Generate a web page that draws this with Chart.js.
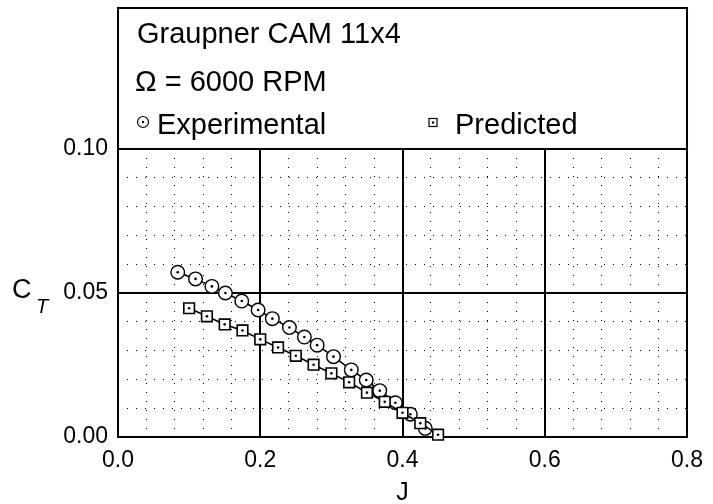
<!DOCTYPE html>
<html>
<head>
<meta charset="utf-8">
<script src="https://cdn.jsdelivr.net/npm/chart.js@4"></script>
<style>
  body { margin: 0; background: #fff; }
</style>
</head>
<body>
<canvas id="myChart" width="713" height="504"></canvas>
<script>
// experimental (circles)
const jExp = [0.084, 0.109, 0.132, 0.151, 0.174, 0.197, 0.217, 0.241, 0.262, 0.280, 0.303, 0.328, 0.349, 0.368, 0.390, 0.411, 0.432];
const ctExp = [0.0572, 0.0549, 0.0523, 0.0500, 0.0472, 0.0441, 0.0411, 0.0380, 0.0347, 0.0319, 0.0279, 0.0233, 0.0198, 0.0161, 0.0119, 0.0079, 0.0030];
// predicted (squares)
const jPred = [0.100, 0.125, 0.150, 0.175, 0.200, 0.225, 0.250, 0.275, 0.300, 0.325, 0.350, 0.375, 0.400, 0.425, 0.450];
const ctPred = [0.0447, 0.0419, 0.0391, 0.0370, 0.0339, 0.0311, 0.0282, 0.0251, 0.0221, 0.0190, 0.0154, 0.0122, 0.0084, 0.0048, 0.0008];

const xTickLabels = ['0.0', '0.2', '0.4', '0.6', '0.8'];
const yTickLabels = ['0.00', '0.05', '0.10'];
const titleLines = ['Graupner CAM 11x4', '\u03A9 = 6000 RPM'];
const seriesNames = ['Experimental', 'Predicted'];

const FONT = '"Liberation Sans", Arial, sans-serif';
const ctx = document.getElementById('myChart').getContext('2d');

function pts(xs, ys) {
    return xs.map((x, i) => ({ x: x, y: ys[i] }));
}

function isMajor(v, step) {
    const r = v / step;
    return Math.abs(r - Math.round(r)) < 1e-6;
}

// box with title lines and legend entries above the plot, plus axis titles
const decorations = {
    id: 'decorations',
    afterDraw(chart) {
        const c = chart.ctx;
        const a = chart.chartArea;
        c.save();
        c.strokeStyle = '#000';
        c.lineWidth = 2;
        c.strokeRect(a.left, 8, a.right - a.left, a.top - 8);

        c.fillStyle = '#000';
        c.textBaseline = 'alphabetic';
        c.textAlign = 'left';
        c.font = '29px ' + FONT;
        c.fillText(titleLines[0], 137, 43);
        c.fillText(titleLines[1], 135, 91);

        // legend entry: circle with dot
        c.lineWidth = 1.2;
        c.beginPath();
        c.arc(143, 122, 5.5, 0, Math.PI * 2);
        c.stroke();
        c.beginPath();
        c.arc(143, 122, 1.2, 0, Math.PI * 2);
        c.fill();
        c.fillText(seriesNames[0], 157, 134);

        // legend entry: square with dot
        c.strokeRect(429, 118.5, 8, 8);
        c.beginPath();
        c.arc(433, 122.5, 1.2, 0, Math.PI * 2);
        c.fill();
        c.fillText(seriesNames[1], 455, 134);

        // axis titles
        c.font = '27px ' + FONT;
        c.fillText('C', 12, 298);
        c.font = 'italic 20px ' + FONT;
        c.fillText('T', 36, 313);
        c.font = '25px ' + FONT;
        c.textAlign = 'center';
        c.fillText('J', (a.left + a.right) / 2, 500);
        c.restore();
    }
};

new Chart(ctx, {
    type: 'line',
    data: {
        datasets: [
            {
                label: 'Predicted dots',
                data: pts(jPred, ctPred),
                showLine: false,
                pointRadius: 1.3,
                pointStyle: 'circle',
                pointBackgroundColor: '#000',
                pointBorderWidth: 0,
                clip: false,
                order: 0
            },
            {
                label: seriesNames[1],
                data: pts(jPred, ctPred),
                borderColor: '#000',
                borderWidth: 1.6,
                tension: 0,
                pointStyle: 'rect',
                pointRadius: 7.5,
                pointBorderWidth: 1.6,
                pointBorderColor: '#000',
                pointBackgroundColor: '#fff',
                clip: false,
                order: 1
            },
            {
                label: 'Experimental dots',
                data: pts(jExp, ctExp),
                showLine: false,
                pointRadius: 1.3,
                pointStyle: 'circle',
                pointBackgroundColor: '#000',
                pointBorderWidth: 0,
                clip: false,
                order: 2
            },
            {
                label: seriesNames[0],
                data: pts(jExp, ctExp),
                borderColor: '#000',
                borderWidth: 1.6,
                tension: 0,
                pointStyle: 'circle',
                pointRadius: 6.8,
                pointBorderWidth: 1.4,
                pointBorderColor: '#000',
                pointBackgroundColor: '#fff',
                clip: false,
                order: 3
            }
        ]
    },
    options: {
        responsive: false,
        animation: false,
        layout: { padding: { top: 149, right: 19, left: 0, bottom: 0 } },
        plugins: {
            legend: { display: false },
            tooltip: { enabled: false }
        },
        elements: { point: { hoverRadius: 0 } },
        scales: {
            xMinor: {
                type: 'linear',
                position: 'bottom',
                min: 0, max: 0.8,
                ticks: { display: false, stepSize: 0.04 },
                grid: {
                    drawTicks: false,
                    lineWidth: 1,
                    color: c => isMajor(c.tick.value, 0.2) ? 'rgba(0,0,0,0)' : '#000'
                },
                border: { display: false, dash: [1, 8] },
                afterFit: s => { s.height = 0; }
            },
            yMinor: {
                type: 'linear',
                position: 'left',
                min: 0, max: 0.1,
                ticks: { display: false, stepSize: 0.01 },
                grid: {
                    drawTicks: false,
                    lineWidth: 1,
                    color: c => isMajor(c.tick.value, 0.05) ? 'rgba(0,0,0,0)' : '#000'
                },
                border: { display: false, dash: [1, 8] },
                afterFit: s => { s.width = 0; }
            },
            x: {
                type: 'linear',
                position: 'bottom',
                min: 0, max: 0.8,
                ticks: {
                    stepSize: 0.2,
                    padding: 10,
                    color: '#000',
                    font: { family: FONT, size: 23 },
                    callback: (v, i) => xTickLabels[i]
                },
                grid: { drawTicks: false, color: '#000', lineWidth: 2 },
                border: { color: '#000', width: 2 },
                afterFit: s => { s.height = 67; }
            },
            y: {
                type: 'linear',
                position: 'left',
                min: 0, max: 0.1,
                ticks: {
                    stepSize: 0.05,
                    padding: 10,
                    color: '#000',
                    font: { family: FONT, size: 23 },
                    callback: (v, i) => yTickLabels[i]
                },
                grid: { drawTicks: false, color: '#000', lineWidth: 2 },
                border: { color: '#000', width: 2 },
                afterFit: s => { s.width = 118; }
            }
        }
    },
    plugins: [decorations]
});
</script>
</body>
</html>
